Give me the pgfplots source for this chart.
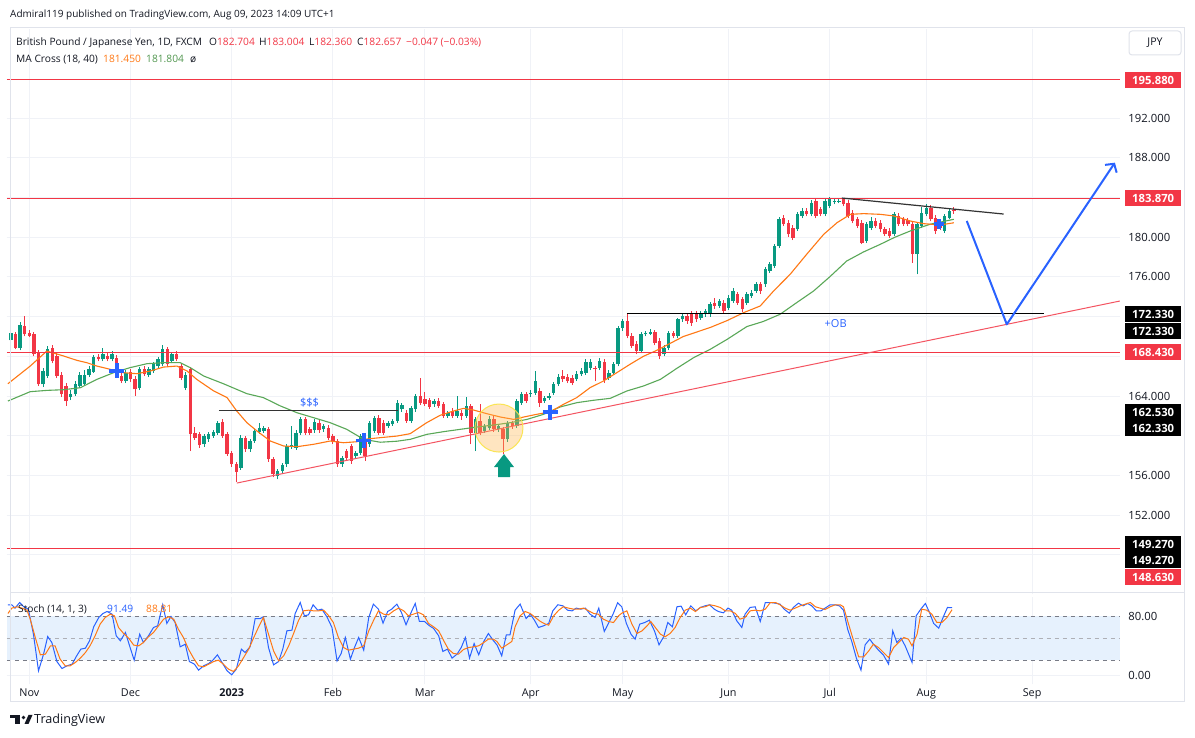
\documentclass[border=0pt]{standalone}
\usepackage{fontspec}
\setmainfont{Open Sans}
\usepackage{pgfplots}
\pgfplotsset{compat=1.18}
\usepackage{pgfplotstable}
\usetikzlibrary{arrows.meta}
\definecolor{tvred}{RGB}{242,54,69}
\definecolor{tvgreen}{RGB}{8,153,129}
\definecolor{maorange}{RGB}{255,120,20}
\definecolor{magreen}{RGB}{90,168,88}
\definecolor{tvblue}{RGB}{41,98,255}
\definecolor{tvtext}{RGB}{19,23,34}
\definecolor{tvgrid}{RGB}{240,242,247}
\definecolor{tvborder}{RGB}{224,227,235}
\definecolor{tvgray}{RGB}{120,123,134}
\definecolor{bandblue}{RGB}{230,241,253}
\newcommand{\fs}[1]{\fontsize{#1}{#1}\selectfont}

\pgfplotstableread[row sep=\\]{
i o h l c\\
0 169.61 170.6 169.4 170.38\\
2 168.87 171.5 168.6 171.15\\
7 165.18 166.8 164.9 166.52\\
8 166.02 169.0 165.8 168.70\\
13 163.90 164.6 163.6 164.24\\
14 164.17 165.5 164.0 165.18\\
15 165.01 166.4 164.8 166.12\\
16 165.18 166.6 165.0 166.12\\
17 166.12 167.0 165.9 166.69\\
18 166.45 168.1 166.3 167.93\\
20 167.70 168.87 167.5 168.20\\
22 167.70 168.5 167.5 168.20\\
25 165.51 166.6 165.3 166.35\\
28 164.78 166.9 164.6 166.69\\
30 166.12 166.9 165.9 166.69\\
31 166.52 167.4 166.3 167.19\\
32 167.02 167.9 166.8 167.70\\
33 167.19 169.1 167.0 168.70\\
35 167.53 168.4 167.3 168.20\\
38 164.84 166.4 164.6 166.12\\
42 159.14 160.2 158.9 159.97\\
43 159.64 160.4 159.4 160.21\\
44 159.97 160.6 159.8 160.38\\
45 160.31 161.5 160.1 161.32\\
50 156.79 160.1 156.6 159.81\\
52 158.63 159.7 158.4 159.47\\
53 159.47 160.7 159.3 160.48\\
54 160.41 161.3 160.2 160.75\\
55 160.48 161.0 160.3 160.81\\
58 155.95 156.7 155.6 156.45\\
59 156.45 157.3 156.2 157.06\\
60 157.12 159.2 156.9 158.97\\
61 158.97 161.0 158.7 159.05\\
62 158.80 160.6 158.6 160.31\\
63 160.31 161.9 160.1 161.65\\
66 160.55 161.7 160.3 161.42\\
68 160.65 161.2 160.4 160.98\\
72 157.12 158.0 156.9 157.79\\
75 157.96 158.5 157.7 158.30\\
76 158.30 160.2 158.1 159.97\\
78 159.14 161.5 158.9 161.32\\
79 160.48 162.0 160.3 161.82\\
82 160.98 161.5 160.8 161.32\\
83 161.15 161.7 161.0 161.49\\
84 161.49 163.6 161.3 163.33\\
85 162.66 163.3 162.4 163.10\\
87 161.49 163.0 161.3 162.83\\
88 162.66 164.2 162.4 164.00\\
92 163.16 163.7 162.9 163.50\\
95 161.99 162.5 161.8 162.32\\
97 161.99 164.0 161.8 162.49\\
99 161.99 163.9 161.8 162.99\\
101 160.31 161.9 158.46 161.65\\
103 160.48 161.2 160.3 160.98\\
104 160.81 162.0 160.6 161.65\\
106 160.65 161.2 160.4 160.98\\
108 159.64 161.5 159.4 161.32\\
110 160.98 163.7 160.8 163.50\\
111 163.33 164.4 163.1 164.17\\
113 164.17 164.6 163.9 164.34\\
114 164.34 166.5 164.1 165.51\\
116 163.50 164.0 163.3 163.84\\
117 163.84 164.3 163.6 164.00\\
118 164.34 165.4 164.1 165.18\\
119 165.18 166.2 165.0 165.92\\
123 165.68 166.5 165.5 166.25\\
124 166.18 166.8 166.0 166.52\\
125 166.35 167.7 166.1 167.46\\
126 166.86 167.7 166.6 167.46\\
128 166.86 167.8 166.6 167.53\\
130 165.85 166.6 165.6 166.35\\
131 166.35 167.4 166.1 167.19\\
132 167.19 171.1 167.0 170.88\\
133 170.88 171.8 170.6 171.56\\
137 168.53 170.5 168.3 170.21\\
138 170.21 170.6 170.0 170.38\\
139 170.28 170.8 170.1 170.48\\
142 168.20 169.1 168.0 168.87\\
143 168.87 170.6 168.6 170.38\\
145 170.05 171.9 169.8 171.72\\
146 171.72 172.3 171.5 172.06\\
150 171.89 172.6 171.7 172.39\\
151 172.23 172.8 172.0 172.56\\
152 172.23 173.5 172.0 173.23\\
154 173.07 173.8 172.9 173.57\\
156 172.90 174.2 172.7 173.91\\
157 173.57 174.9 173.4 174.58\\
160 173.41 174.5 173.2 174.25\\
161 174.08 174.7 173.9 174.41\\
162 174.58 175.5 174.4 175.25\\
164 175.25 177.0 175.0 176.76\\
165 176.60 177.5 176.4 177.27\\
166 177.10 179.3 176.9 179.11\\
167 179.11 182.0 178.9 181.80\\
171 180.79 182.5 180.6 182.30\\
172 182.14 182.9 181.9 182.64\\
174 182.30 183.7 182.1 183.48\\
177 182.30 183.9 182.1 183.65\\
178 183.14 184.0 182.9 183.81\\
179 183.58 183.9 183.3 183.65\\
180 183.58 183.9 183.4 183.65\\
186 179.62 181.5 179.4 181.30\\
187 180.96 182.0 180.7 181.63\\
192 180.29 182.5 180.1 182.30\\
197 178.28 181.5 176.26 181.30\\
198 181.13 183.0 180.9 182.47\\
199 182.30 183.3 182.1 182.97\\
203 180.62 182.3 180.4 182.14\\
204 181.97 182.9 181.8 182.64\\
}\upc

\pgfplotstableread[row sep=\\]{
i o h l c\\
1 170.21 170.5 168.7 168.87\\
3 171.05 172.06 170.0 170.21\\
4 170.38 170.7 169.9 170.05\\
5 170.21 170.5 168.0 168.20\\
6 168.37 168.6 165.0 165.18\\
9 168.87 169.1 167.3 167.53\\
10 168.03 168.3 165.8 166.02\\
11 166.12 166.4 163.9 164.17\\
12 165.01 165.3 163.0 163.50\\
19 167.93 168.2 167.5 167.70\\
21 168.03 168.4 167.5 167.70\\
23 167.86 168.1 165.8 166.02\\
24 166.02 166.3 165.3 165.51\\
26 166.42 166.7 165.4 165.68\\
27 165.68 166.0 164.0 164.67\\
29 166.69 167.0 166.0 166.18\\
34 168.70 168.9 167.0 167.19\\
36 168.20 168.5 167.5 167.70\\
37 167.02 167.3 165.6 165.85\\
39 166.69 166.9 158.46 160.14\\
40 160.31 160.9 159.6 159.81\\
41 160.14 160.4 158.8 159.07\\
46 161.42 161.7 159.8 159.97\\
47 160.14 160.4 158.0 158.20\\
48 158.30 158.5 156.9 157.12\\
49 157.12 157.4 155.30 156.38\\
51 159.81 160.0 158.4 158.63\\
56 160.65 160.9 157.4 157.63\\
57 157.63 157.9 155.8 156.12\\
64 161.65 161.9 160.1 160.31\\
65 160.65 160.9 160.1 160.31\\
67 161.32 161.6 160.3 160.55\\
69 160.81 161.1 159.6 159.81\\
70 159.97 160.2 159.2 159.47\\
71 159.47 159.7 156.9 157.12\\
73 158.46 158.7 157.5 157.79\\
74 158.97 159.2 157.2 157.46\\
77 159.47 159.7 157.5 157.96\\
80 161.82 162.1 160.1 160.31\\
81 161.32 161.6 160.1 160.31\\
86 162.32 162.6 161.3 161.49\\
89 164.00 165.85 163.1 163.33\\
90 163.67 164.4 163.0 163.16\\
91 163.57 163.8 162.7 162.90\\
93 163.50 163.8 162.8 162.99\\
94 163.16 163.4 161.8 161.99\\
96 162.49 162.8 161.8 161.99\\
98 162.32 162.6 161.6 161.99\\
100 162.99 163.2 159.14 160.31\\
102 161.49 163.2 160.1 160.31\\
105 161.65 162.1 160.4 160.65\\
107 160.65 160.9 158.13 159.64\\
109 161.32 161.5 160.7 160.98\\
112 164.17 164.4 163.3 163.50\\
115 164.51 164.8 162.9 163.33\\
120 166.02 166.6 165.4 165.68\\
121 165.92 166.2 165.3 165.51\\
122 165.85 166.1 165.1 165.35\\
127 166.86 167.0 165.5 166.69\\
129 167.43 167.7 165.3 165.58\\
134 171.56 172.33 169.8 170.05\\
135 170.05 170.3 168.8 169.04\\
136 169.21 169.5 168.2 168.53\\
140 170.48 170.7 169.1 169.37\\
141 169.54 169.8 167.7 168.03\\
144 170.38 170.6 169.8 170.05\\
147 172.06 172.3 171.3 171.56\\
148 172.39 172.6 171.1 171.39\\
149 172.39 172.6 171.5 171.72\\
153 173.40 173.9 172.8 173.07\\
155 173.41 173.7 172.3 172.57\\
158 174.25 174.5 173.2 173.41\\
159 173.74 174.0 172.5 172.74\\
163 175.25 175.5 174.3 174.58\\
168 181.97 182.2 181.1 181.30\\
169 181.46 181.7 180.0 180.29\\
170 180.96 181.2 179.7 179.95\\
173 182.64 182.9 182.1 182.30\\
175 183.65 183.9 181.9 182.14\\
176 182.81 183.0 182.1 182.30\\
181 183.81 183.94 183.1 183.31\\
182 183.48 183.7 181.9 182.14\\
183 182.47 182.7 181.4 181.63\\
184 181.80 182.0 180.9 181.13\\
185 181.46 181.7 179.3 179.45\\
188 181.63 181.9 180.9 181.13\\
189 181.46 181.7 180.5 180.79\\
190 180.79 181.0 180.1 180.29\\
191 180.62 180.9 179.9 180.12\\
193 182.14 182.4 181.1 181.30\\
194 181.80 182.0 181.1 181.30\\
195 181.70 181.9 181.1 181.30\\
196 181.30 181.5 177.44 178.28\\
200 182.97 183.2 181.6 181.80\\
201 181.97 182.2 180.3 180.62\\
202 181.46 181.7 180.7 180.96\\
205 182.704 183.004 182.360 182.657\\
}\dnc

\pgfplotsset{
  candle/.style 2 args={draw=none, mark=none, forget plot,
    error bars/.cd, y dir=plus, y explicit, error mark=none,
    error bar style={line width=#2, draw=#1, line cap=butt}},
}

\begin{document}
\begin{tikzpicture}[x=1bp,y=1bp]
\fill[white] (0,0) rectangle (1195,738);

% ---------------- price pane ----------------
\begin{axis}[
  at={(15,145)}, anchor=south west, scale only axis,
  width=1113bp, height=565bp,
  xmin=-0.87, xmax=241.09, ymin=144.065, ymax=200.963,
  axis line style={draw=none}, major tick length=0pt,
  xtick={4,26,48,70,90,113,133,156,178,199,222}, xticklabels={},
  ytick={152,156,164,176,180,188,192},
  extra y ticks={148,160,168,172,184}, extra y tick labels={},
  grid=major, grid style={tvgrid, line width=1bp},
  extra y tick style={grid=major},
  yticklabel pos=right,
  /pgf/number format/assume math mode=true,
  yticklabel style={font=\fs{11.3bp}, text=tvtext, anchor=west, xshift=5bp,
    /pgf/number format/fixed, /pgf/number format/fixed zerofill,
    /pgf/number format/precision=3, /pgf/number format/1000 sep={},
    /pgf/number format/assume math mode=true},
]
% candles: wicks and bodies
\addplot[candle={tvgreen}{1bp}] table[x=i, y=l, y error expr=\thisrow{h}-\thisrow{l}] {\upc};
\addplot[candle={tvgreen}{3.3bp}] table[x=i, y=o, y error expr={max(\thisrow{c}-\thisrow{o},0.09)}] {\upc};
\addplot[candle={tvred}{1bp}] table[x=i, y=l, y error expr=\thisrow{h}-\thisrow{l}] {\dnc};
\addplot[candle={tvred}{3.3bp}] table[x=i, y=c, y error expr={max(\thisrow{o}-\thisrow{c},0.09)}] {\dnc};

% moving averages
\addplot[magreen, line width=1.1bp, mark=none] coordinates {
(-0.65,163.5)(4.2,164.44)(7.8,164.57)(11.5,164.64)(15.1,164.84)(18.7,165.68)(22.3,166.35)(25.9,166.86)(29.6,167.26)(33.2,167.36)(36.8,167.36)(39,166.86)(41.9,166.02)(46.2,165.24)(51.3,164.24)(54.9,163.84)(58.6,163.0)(62.2,162.32)(65.8,161.82)(69.4,161.32)(73,160.65)(76.7,159.64)(80.3,159.35)(83.9,159.45)(86.8,159.64)(90.4,160.14)(94,160.41)(97.7,160.65)(101.3,160.88)(104.9,161.08)(108.6,161.32)(112.2,161.65)(115.8,162.16)(119.4,162.9)(123,163.33)(126.6,163.57)(130.3,163.77)(133.9,164.51)(137.5,165.01)(141.2,165.68)(144.8,166.8)(148.4,167.86)(152,168.7)(155.7,169.71)(160,171.0)(163.5,171.5)(167.2,172.23)(170.8,173.4)(174.5,174.58)(178,176.0)(181.7,177.6)(185.3,178.5)(189,179.28)(192.2,180.0)(195.5,180.62)(199.8,181.3)(205,181.8)};
\addplot[maorange, line width=1.1bp, mark=none] coordinates {
(-0.65,165.24)(4.2,167.02)(7.8,168.53)(11.5,168.03)(14.3,167.6)(16.5,167.36)(18.7,167.02)(21.6,166.69)(24.5,166.35)(27.4,166.25)(30.3,166.52)(33.2,166.92)(36.1,167.02)(38.3,166.52)(40.4,165.68)(44.1,164.51)(47,163.84)(49.1,162.49)(51.3,161.32)(53.5,160.48)(56.4,159.47)(59.3,158.97)(62.2,158.9)(65.8,159.14)(69.4,159.47)(72.3,159.3)(75.2,159.4)(76.7,159.64)(80.3,159.81)(83.9,159.97)(86.8,160.21)(90.4,161.32)(93.3,162.06)(96.2,162.49)(98.4,162.76)(100.5,162.6)(103.5,162.22)(106.4,161.89)(109.3,161.65)(111.5,161.89)(114.3,162.16)(117.2,162.4)(120.1,163.16)(123,163.84)(125.9,164.84)(128.8,165.51)(131.7,166.35)(134.6,167.2)(137.5,168.0)(140.4,168.6)(143.3,169.3)(146.2,170.0)(149.1,170.45)(152,170.9)(155.7,171.6)(159.3,172.4)(162.9,173.07)(165.8,174.58)(169.4,176.26)(173,178.28)(176.7,180.29)(179.6,181.46)(182.5,182.3)(185.4,182.37)(189,182.3)(191.9,182.14)(195.5,181.63)(198.4,181.36)(202,181.23)(205,181.45)};

% horizontal levels
\addplot[tvred, line width=1bp, mark=none, forget plot] coordinates {(-0.87,195.88)(241.09,195.88)};
\addplot[tvred, line width=1bp, mark=none, forget plot] coordinates {(-0.87,183.87)(241.09,183.87)};
\addplot[tvred, line width=1bp, mark=none, forget plot] coordinates {(-0.87,168.43)(241.09,168.43)};
\addplot[tvred, line width=1bp, mark=none, forget plot] coordinates {(-0.87,148.63)(241.09,148.63)};
% trendline
\addplot[tvred!85, line width=1bp, mark=none, forget plot] coordinates {(49.13,155.24)(241.09,173.57)};
% black lines
\addplot[black!80, line width=1.5bp, mark=none, forget plot] coordinates {(45.2,162.53)(84.2,162.53)};
\addplot[black, line width=1.2bp, mark=none, forget plot] coordinates {(133.9,172.33)(224.6,172.33)};
\addplot[black!80, line width=1.2bp, mark=none, forget plot] coordinates {(180.65,183.94)(215.8,182.33)};

% blue crosses
\addplot[only marks, mark=+, mark size=7.5bp, line width=3.6bp, tvblue, forget plot] coordinates {(23.0,166.55)(76.7,159.54)(117.2,162.39)};
\addplot[only marks, mark=+, mark size=5bp, line width=3.6bp, tvblue, forget plot] coordinates {(201.7,181.3)};

% highlight circle and arrow
\fill[fill={rgb,255:red,255;green,183;blue,77}, fill opacity=0.35, draw={rgb,255:red,250;green,228;blue,70}, draw opacity=0.9, line width=1bp]
  (axis cs:106.1,160.78) circle[radius=24bp];
\fill[tvgreen] (axis cs:107.2,158.16) -- ++(10bp,-13bp) -- ++(-4bp,0bp) -- ++(0bp,-10bp) -- ++(-12bp,0bp) -- ++(0bp,10bp) -- ++(-4bp,0bp) -- cycle;

% blue projection path
\draw[tvblue, line width=2bp, line join=round, -{Straight Barb[length=6bp, width=14bp, line width=2bp]}]
  (axis cs:207.8,181.63) -- (axis cs:216.5,171.22) -- (axis cs:240.0,187.5);

\node[text=tvblue, font=\fs{11bp}] at (axis cs:64.9,163.3) {\$\$\$};
\node[text=tvblue, font=\fs{11bp}] at (axis cs:179.3,171.25) {+OB};
\end{axis}

% ---------------- stochastic pane ----------------
\begin{axis}[
  at={(15,73)}, anchor=south west, scale only axis,
  width=1113bp, height=87bp,
  xmin=-0.87, xmax=241.09, ymin=-12.2, ymax=105.76,
  axis line style={draw=none}, major tick length=0pt,
  xtick={4,26,48,70,90,113,133,156,178,199,222},
  xticklabels={Nov,Dec,\textbf{2023},Feb,Mar,Apr,May,Jun,Jul,Aug,Sep},
  xticklabel style={font=\fs{10.8bp}, text=tvtext, anchor=base, yshift=-12bp},
  ytick={0,80},
  grid=major, grid style={tvgrid, line width=1bp},
  yticklabel pos=right,
  /pgf/number format/assume math mode=true,
  yticklabel style={font=\fs{11.3bp}, text=tvtext, anchor=west, xshift=5bp,
    /pgf/number format/fixed, /pgf/number format/fixed zerofill,
    /pgf/number format/precision=2, /pgf/number format/assume math mode=true},
]
\fill[bandblue] (axis cs:-0.87,20) rectangle (axis cs:241.09,80);
\addplot[tvgray, dash pattern=on 4bp off 4bp, line width=1bp, forget plot] coordinates {(-0.87,80)(241.09,80)};
\addplot[tvgray!60, dash pattern=on 4bp off 4bp, line width=1bp, forget plot] coordinates {(-0.87,50)(241.09,50)};
\addplot[tvgray, dash pattern=on 4bp off 4bp, line width=1bp, forget plot] coordinates {(-0.87,20)(241.09,20)};

\addplot[tvblue, line width=1bp, mark=none] coordinates {
(-0.65,95.4)(0.2,95.4)(0.9,90.9)(1.9,98.5)(2.8,92.7)(3.8,89.5)(4.9,55.6)(6.0,5.9)(7.1,28.5)(8.0,52.4)(8.9,44.3)(10.0,18.5)(11.1,9.0)(12.2,12.7)(13.3,14.9)(14.3,26.2)(15.2,35.3)(16.2,36.6)(17.1,46.6)(18.0,65.5)(19.1,78.2)(20.0,83.6)(20.9,86.3)(22.0,82.7)(22.9,53.3)(23.8,46.6)(24.9,57.9)(25.8,39.8)(26.8,20.3)(28.0,55.6)(28.8,44.3)(29.9,53.3)(31.0,64.6)(31.9,66.9)(33.0,95.4)(33.9,70.1)(34.8,79.6)(35.7,71.4)(36.8,38.4)(37.9,42.0)(38.8,18.5)(39.9,14.9)(40.8,6.8)(41.9,12.7)(43.0,15.8)(43.9,20.3)(44.9,27.6)(45.9,17.2)(47.0,5.9)(48.0,0.5)(49.0,8.1)(50.1,35.3)(50.9,30.7)(52.0,38.4)(53.1,76.8)(54.2,76.8)(54.9,79.1)(56.0,37.5)(57.1,14.0)(58.2,18.5)(59.1,35.3)(60.0,60.1)(61.1,61.0)(61.8,83.6)(62.9,98.5)(63.8,80.5)(64.7,81.8)(65.7,95.4)(66.7,88.1)(67.6,89.5)(68.7,79.1)(69.8,64.6)(70.9,19.4)(71.8,29.4)(72.7,51.1)(73.8,21.7)(74.7,37.5)(75.6,51.1)(76.7,33.9)(77.8,78.2)(78.8,96.3)(79.9,89.5)(80.9,70.5)(81.9,86.3)(82.8,89.5)(83.9,96.3)(84.9,85.0)(85.9,68.3)(87.0,85.0)(87.9,97.2)(88.8,72.8)(89.9,72.8)(91.0,66.9)(91.9,63.3)(93.0,53.3)(93.9,32.1)(94.9,35.3)(95.9,23.1)(97.0,28.5)(97.9,37.5)(98.8,51.1)(99.7,23.1)(100.7,42.9)(101.7,27.6)(102.8,45.7)(103.8,56.5)(104.8,47.5)(105.7,40.7)(106.7,26.2)(107.7,54.7)(108.5,54.7)(109.6,88.1)(110.7,96.3)(112.0,76.8)(112.9,82.7)(113.8,74.6)(114.7,64.6)(115.8,66.9)(116.9,70.1)(117.8,87.2)(118.9,95.4)(120.0,94.0)(121.0,88.1)(122.0,87.2)(122.9,90.9)(123.9,89.5)(124.9,90.9)(125.9,82.7)(127.0,78.2)(127.8,90.9)(129.0,59.2)(129.9,70.1)(130.9,82.7)(131.9,98.1)(132.8,92.7)(133.8,70.1)(134.8,55.6)(135.7,48.8)(136.7,69.2)(137.8,71.4)(138.8,74.6)(139.9,60.1)(140.9,41.1)(141.9,52.0)(142.8,71.4)(143.8,65.5)(144.8,92.7)(145.7,93.6)(146.7,81.8)(147.8,94.0)(148.9,87.2)(149.9,91.8)(150.9,94.0)(151.9,95.4)(152.9,89.5)(153.8,86.3)(154.9,84.5)(155.9,90.9)(156.7,88.1)(157.8,73.7)(158.9,64.6)(159.6,82.7)(160.7,91.8)(161.8,92.7)(162.9,72.8)(164.0,98.5)(165.1,98.5)(166.2,97.6)(167.2,96.3)(168.1,89.5)(169.2,84.1)(170.1,91.8)(171.2,97.6)(172.2,94.0)(173.2,97.2)(174.1,94.0)(175.1,87.2)(176.1,87.2)(177.0,90.9)(178.1,95.4)(179.2,95.4)(180.1,94.0)(181.0,88.1)(181.9,62.4)(182.8,45.7)(183.8,23.1)(184.8,6.8)(185.7,41.1)(186.7,48.8)(187.5,42.0)(188.6,33.9)(189.7,27.1)(190.8,14.9)(191.7,60.1)(192.6,44.3)(193.5,50.2)(194.4,39.8)(195.9,17.2)(196.8,80.5)(197.8,89.5)(198.8,97.2)(199.7,85.0)(200.6,70.1)(201.7,63.7)(202.8,80.5)(203.6,91.8)(204.6,91.49)};
\addplot[maorange, line width=1bp, mark=none] coordinates {
(-0.65,83.6)(0.2,90.9)(1.3,92.7)(2.4,90.9)(3.5,88.1)(4.2,75.9)(5.3,51.1)(6.4,27.6)(7.5,28.5)(8.6,39.8)(9.6,39.8)(10.7,21.7)(11.8,12.7)(12.9,12.7)(14.0,17.2)(15.1,23.1)(16.2,30.7)(17.2,39.8)(18.3,53.3)(19.4,69.2)(20.5,78.2)(21.6,82.7)(22.5,80.5)(23.4,64.6)(24.5,56.5)(25.6,50.2)(26.7,40.7)(27.8,39.8)(28.8,44.3)(29.9,52.0)(31.0,57.9)(32.1,66.9)(33.2,75.9)(34.3,79.1)(35.4,75.9)(36.4,62.4)(37.5,51.1)(38.6,35.3)(39.7,23.1)(40.8,12.7)(41.9,11.3)(43.0,14.9)(44.1,18.5)(45.1,20.3)(46.2,14.9)(47.3,8.1)(48.4,5.0)(49.5,12.7)(50.6,24.0)(51.7,35.3)(52.8,51.1)(53.8,64.6)(54.9,78.2)(56.0,55.6)(57.1,33.0)(58.2,19.4)(59.3,26.2)(60.4,39.8)(61.4,55.6)(62.5,73.7)(63.6,87.2)(64.7,88.1)(65.8,87.2)(66.9,87.2)(68.0,88.1)(69.1,80.5)(70.1,71.4)(71.2,51.1)(72.3,37.5)(73.4,33.9)(74.5,35.3)(75.6,36.6)(76.7,39.8)(77.8,60.1)(78.8,73.7)(79.9,87.2)(81.0,82.7)(82.1,81.8)(83.2,87.2)(84.3,90.9)(85.4,87.2)(86.4,80.5)(87.5,82.7)(88.6,85.0)(89.7,81.8)(90.8,70.1)(91.9,65.5)(93.0,60.1)(94.1,46.6)(95.1,35.3)(96.2,29.4)(97.3,28.5)(98.4,34.8)(99.5,37.5)(100.6,38.4)(101.7,39.8)(102.8,44.3)(103.8,48.8)(104.9,48.8)(105.65,45.7)(106.7,36.6)(107.8,41.1)(108.9,45.7)(109.6,65.5)(110.7,80.5)(111.8,86.3)(112.9,83.6)(114.0,78.2)(115.1,72.8)(116.2,69.2)(116.9,67.8)(118.0,80.5)(119.1,88.1)(120.1,92.7)(121.2,90.9)(122.3,89.5)(123.4,89.5)(124.5,90.9)(125.6,87.2)(126.7,83.6)(127.7,82.7)(128.8,75.9)(129.9,72.8)(131.0,71.4)(132.1,80.5)(132.8,84.0)(133.9,87.2)(135.0,69.2)(136.1,56.5)(137.2,60.1)(138.3,66.9)(139.1,72.8)(140.1,64.6)(141.2,55.6)(142.2,52.0)(143.3,56.5)(144.4,64.6)(145.5,78.2)(146.6,88.1)(147.7,90.9)(148.8,86.3)(149.9,91.8)(150.9,92.7)(152.0,95.4)(153.1,94.0)(154.2,91.8)(155.3,87.2)(156.4,87.2)(157.5,83.6)(158.5,75.9)(159.6,78.2)(160.7,87.2)(161.8,88.1)(162.9,87.2)(164.0,89.5)(165.1,98.5)(166.2,98.5)(167.2,95.4)(168.3,90.9)(169.4,88.1)(170.5,90.9)(171.6,94.0)(172.7,96.3)(173.8,98.5)(174.9,92.7)(175.9,90.9)(177.0,89.0)(178.1,92.7)(179.2,95.4)(180.3,95.4)(181.0,92.7)(182.1,69.2)(183.2,46.6)(184.3,24.9)(185.4,24.9)(186.5,33.0)(187.5,42.0)(188.6,37.5)(189.7,30.7)(190.8,23.9)(191.9,37.5)(193.0,44.3)(194.1,51.1)(195.1,48.8)(195.9,39.8)(197.0,55.6)(198.0,89.5)(199.1,88.1)(200.2,82.7)(201.3,71.4)(202.4,71.4)(203.5,78.2)(204.6,88.81)};
\end{axis}

% ---------------- frame ----------------
\draw[tvborder, line width=1bp] (10,710) -- (1184,710) -- (1184,36) -- (10,36) -- cycle;
\draw[tvborder, line width=1bp] (10,145) -- (1184,145);

% ---------------- texts ----------------
\node[anchor=base west, inner sep=0, text=tvtext, font=\fs{10bp}] at (10,720) {Admiral119 published on TradingView.com, Aug 09, 2023 14:09 UTC+1};

\node[anchor=base west, inner sep=0, text=tvtext, font=\fs{10.2bp}] at (16,692) {British Pound / Japanese Yen, 1D, FXCM};
\node[anchor=base west, inner sep=0, font=\fs{10.2bp}] at (209,692) {\textcolor{tvtext}{O}\textcolor{tvred}{182.704}};
\node[anchor=base west, inner sep=0, font=\fs{10.2bp}] at (259,692) {\textcolor{tvtext}{H}\textcolor{tvred}{183.004}};
\node[anchor=base west, inner sep=0, font=\fs{10.2bp}] at (309,692) {\textcolor{tvtext}{L}\textcolor{tvred}{182.360}};
\node[anchor=base west, inner sep=0, font=\fs{10.2bp}] at (357,692) {\textcolor{tvtext}{C}\textcolor{tvred}{182.657}};
\node[anchor=base west, inner sep=0, text=tvred, font=\fs{10.2bp}] at (406,692) {−0.047 (−0.03\%)};

\node[anchor=base west, inner sep=0, text=tvtext, font=\fs{10.2bp}] at (16,675) {MA Cross (18, 40)};
\node[anchor=base west, inner sep=0, text=maorange, font=\fs{10.2bp}] at (103,675) {181.450};
\node[anchor=base west, inner sep=0, text=magreen!90!black, font=\fs{10.2bp}] at (146,675) {181.804};
\node[anchor=base west, inner sep=0, text=tvtext, font=\fs{10.2bp}] at (190,675) {ø};

\node[anchor=base west, inner sep=0, text=tvtext, font=\fs{10.2bp}] at (18,125) {Stoch (14, 1, 3)};
\node[anchor=base west, inner sep=0, text=tvblue, font=\fs{10.2bp}] at (107,125) {91.49};
\node[anchor=base west, inner sep=0, text=maorange, font=\fs{10.2bp}] at (146,125) {88.81};

% JPY box
\draw[tvborder, line width=1bp, rounded corners=3bp, fill=white] (1129,707) rectangle (1181,683);
\node[text=tvtext, font=\fs{10.6bp}] at (1155,695) {JPY};

% price labels
\foreach \yy/\lab/\col in {658/195.880/tvred, 540/183.870/tvred, 424/172.330/black, 407/172.330/black, 386/168.430/tvred, 326/162.530/black, 310/162.330/black, 194/149.270/black, 178/149.270/black, 161/148.630/tvred}{
  \node[fill=\col, text=white, font=\bfseries\fs{11.3bp}, minimum width=56bp, minimum height=16.5bp, inner sep=0, anchor=west] at (1125,\yy) {\lab};
}

% footer logo
\fill[tvtext] (10,23) rectangle (20,19.5);
\fill[tvtext] (15,19.5) rectangle (20,14);
\fill[tvtext] (23.5,20.5) circle (1.9);
\fill[tvtext] (24.5,14) -- (28.5,23) -- (32.5,23) -- (28.5,14) -- cycle;
\node[anchor=base west, inner sep=0, text=tvtext, font=\fs{12.6bp}] at (34,14) {TradingView};

\pgfresetboundingbox
\useasboundingbox (0,0) rectangle (1195,738);
\end{tikzpicture}
\end{document}
